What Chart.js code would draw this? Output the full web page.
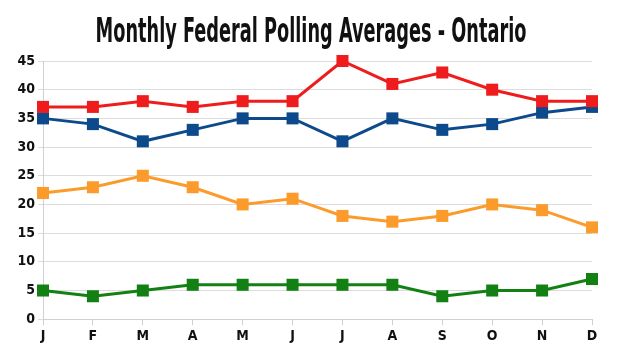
<!DOCTYPE html>
<html><head><meta charset="utf-8">
<script src="https://cdn.jsdelivr.net/npm/chart.js@4/dist/chart.umd.min.js"></script>
<style>html,body{margin:0;padding:0;background:#fff;}#wrap{width:620px;height:358px;}</style>
</head><body><div id="wrap"><canvas id="c" width="620" height="358"></canvas></div>
<script>
const titleText = "Monthly Federal Polling Averages - Ontario";
const months = ["J","F","M","A","M","J","J","A","S","O","N","D"];
const yTicks = [0,5,10,15,20,25,30,35,40,45];
const redSeries = [37,37,38,37,38,38,45,41,43,40,38,38];
const blueSeries = [35,34,31,33,35,35,31,35,33,34,36,37];
const orangeSeries = [22,23,25,23,20,21,18,17,18,20,19,16];
const greenSeries = [5,4,5,6,6,6,6,6,4,5,5,7];

const FONT = "'DejaVu Sans Condensed','Liberation Sans Narrow',sans-serif";
function ds(data, color){
  return {data, borderColor:color, backgroundColor:color, borderWidth:3,
    pointStyle:'rect', pointRadius:8.5, pointHoverRadius:8.5, pointBorderWidth:0,
    tension:0, clip:false};
}
const squeezedTitle = {
  id:'squeezedTitle',
  afterDraw(chart){
    const ctx = chart.ctx;
    ctx.save();
    ctx.font = "bold 34px " + FONT;
    ctx.fillStyle = '#111';
    ctx.textAlign = 'center';
    ctx.textBaseline = 'alphabetic';
    const sx = 0.58;
    ctx.translate(311, 42);
    ctx.scale(sx, 1);
    ctx.fillText(titleText, 0, 0);
    ctx.restore();
  }
};
new Chart(document.getElementById('c'), {
  type:'line',
  data:{labels:months, datasets:[ds(redSeries,'#ee1c1c'), ds(blueSeries,'#0d4a8c'), ds(orangeSeries,'#fb9b2c'), ds(greenSeries,'#138013')]},
  options:{
    responsive:false, animation:false, devicePixelRatio:1,
    layout:{padding:{left:0,right:28,top:61,bottom:10}},
    plugins:{legend:{display:false}, tooltip:{enabled:false}, title:{display:false}},
    scales:{
      x:{offset:false, grid:{display:true, drawOnChartArea:false, tickLength:6, color:'#d0d0d0'},
         border:{color:'#d0d0d0'},
         ticks:{color:'#111', font:{family:FONT, size:14, weight:'bold'}, padding:3, maxRotation:0, autoSkip:false}},
      y:{min:0, max:45, afterFit:(s)=>{s.width=43;},
         afterBuildTicks:(s)=>{s.ticks = yTicks.map(v=>({value:v}));},
         grid:{color:'#dcdcdc', tickLength:5}, border:{color:'#d0d0d0'},
         ticks:{color:'#111', font:{family:FONT, size:14, weight:'bold'}, padding:3}}
    }
  },
  plugins:[squeezedTitle]
});
</script></body></html>
